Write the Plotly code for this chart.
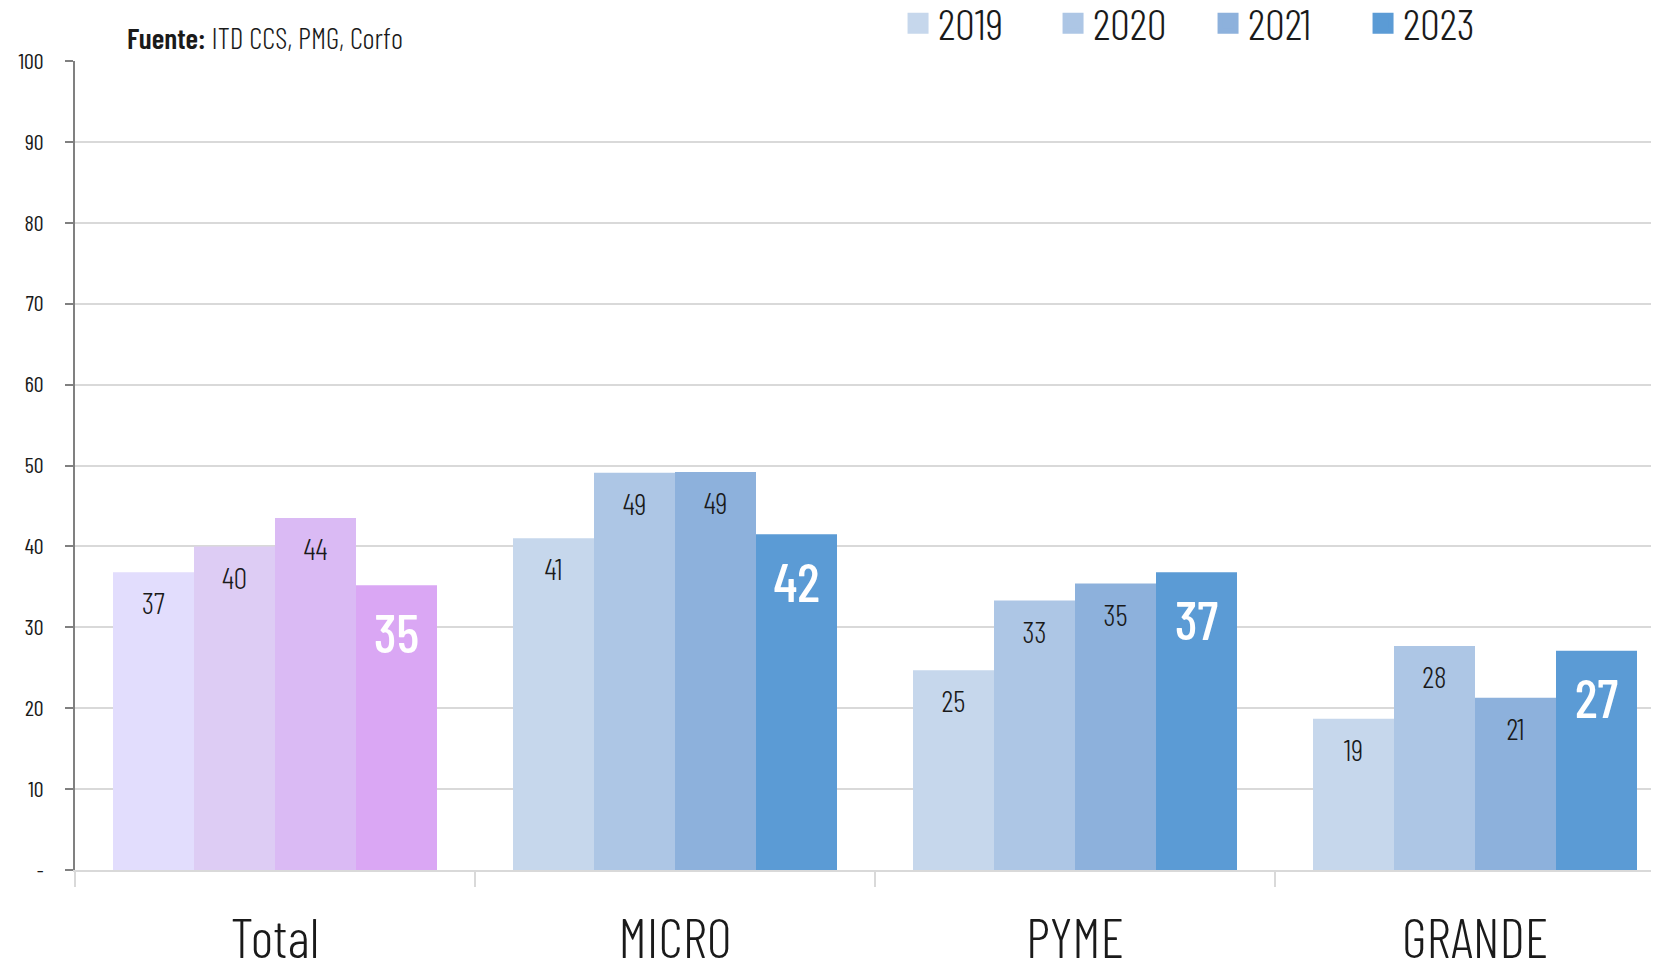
import plotly.graph_objects as go

categories = ["Total", "MICRO", "PYME", "GRANDE"]
years = ["2019", "2020", "2021", "2023"]
v2019 = [36.8, 41.0, 24.7, 18.7]
v2020 = [40.0, 49.1, 33.3, 27.7]
v2021 = [43.5, 49.2, 35.4, 21.3]
v2023 = [35.2, 41.5, 36.8, 27.1]
series = [v2019, v2020, v2021, v2023]

blue = ["#C6D7EC", "#ADC6E5", "#8DB1DC", "#5B9BD5"]
purple = ["#E2DDFD", "#DDCCF4", "#DABAF4", "#DAA7F4"]
ytick_vals = [0, 10, 20, 30, 40, 50, 60, 70, 80, 90, 100]
ytick_text = ["-", "10", "20", "30", "40", "50", "60", "70", "80", "90", "100"]

FONT = "Barlow Condensed, Roboto Condensed, sans-serif"
DARK = "#1a1a1a"

# the page body adds an 8px margin, so the figure is 8px smaller
W, H = 1651, 959
M_L, M_R, M_T, M_B = 67, 0, 0, 97
PLOT_TOP = 53
paper_h = H - M_T - M_B
y_dom_top = (paper_h - PLOT_TOP) / paper_h


def label_template(big_px):
    # a blank small first line pushes the value a little below the bar top
    return ("&nbsp;<br>"
            f"<span style='font-size:{big_px}px'>%{{text}}</span>")


fig = go.Figure()
for i, (yr, vals) in enumerate(zip(years, series)):
    last = i == len(years) - 1
    base_px, big_px = (28, 54) if last else (17, 30)
    tf = dict(family=FONT, size=base_px, weight=500 if last else 300,
              color="white" if last else DARK)
    labels = [f"{round(v):d}" for v in vals]
    for xs, ys, ts, col in ((categories[:1], vals[:1], labels[:1], purple[i]),
                            (categories[1:], vals[1:], labels[1:], blue[i])):
        fig.add_trace(go.Bar(
            name=yr, x=xs, y=ys, offsetgroup=yr, showlegend=False,
            marker=dict(color=col, line=dict(width=0)),
            text=ts, texttemplate=label_template(big_px),
            textposition="inside", insidetextanchor="end", textangle=0,
            textfont=tf, hovertemplate="%{x} " + yr + ": %{y}<extra></extra>",
        ))
# legend entries
for i, yr in enumerate(years):
    fig.add_trace(go.Scatter(
        name=yr, x=[None], y=[None], mode="markers",
        marker=dict(symbol="square", size=16, color=blue[i],
                    line=dict(color=blue[i], width=5)),
        showlegend=True,
    ))

fig.update_layout(
    width=W, height=H,
    barmode="group", bargap=0.19, bargroupgap=0,
    plot_bgcolor="white", paper_bgcolor="white",
    margin=dict(l=M_L, r=M_R, t=M_T, b=M_B, pad=0, autoexpand=False),
    font=dict(family=FONT, color=DARK, weight=300),
    legend=dict(orientation="h", x=0.5196, xanchor="left", y=1.023, yanchor="top",
                font=dict(size=44, family=FONT, weight=300), entrywidth=110, itemwidth=30,
                itemsizing="trace", bgcolor="rgba(0,0,0,0)", traceorder="normal"),
    xaxis=dict(range=[-0.5, 3.46], showline=True, linecolor="#D9D9D9", linewidth=2,
               ticks="outside", tickson="boundaries", ticklen=15, tickcolor="#D9D9D9",
               tickwidth=2, tickfont=dict(size=55, family=FONT, weight=300),
               ticklabelstandoff=20, automargin=False),
    yaxis=dict(range=[0, 100], domain=[0, y_dom_top], tickvals=ytick_vals, ticktext=ytick_text,
               showline=True, linecolor="#808080", linewidth=2,
               ticks="outside", ticklen=8, tickcolor="#808080", tickwidth=2,
               gridcolor="#D9D9D9", gridwidth=2, zeroline=False,
               tickfont=dict(size=22, family=FONT, weight=400), ticklabelstandoff=17,
               automargin=False),
    annotations=[dict(
        text="<span style='font-weight:600'>Fuente:</span> ITD CCS, PMG, Corfo",
        xref="paper", yref="paper",
        x=0.0316, y=1 - 29 / paper_h, xanchor="left", yanchor="middle", showarrow=False,
        font=dict(size=29.5, family=FONT, color=DARK, weight=300))],
)

fig.write_html("out.html")
